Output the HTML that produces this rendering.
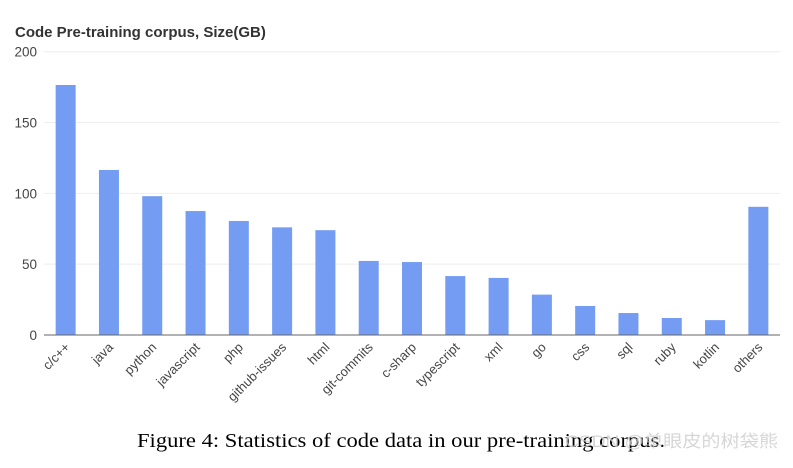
<!DOCTYPE html>
<html><head><meta charset="utf-8"><style>
body{margin:0;background:#fff;width:793px;height:463px;overflow:hidden;font-family:"Liberation Sans","DejaVu Sans",sans-serif}
</style></head><body>
<svg width="793" height="463" id="c">
<text x="15" y="37" font-size="15" font-weight="bold" fill="#333">Code Pre-training corpus, Size(GB)</text>
<text x="137" y="447" font-family="Liberation Serif,serif" font-size="20" fill="#000" textLength="528" lengthAdjust="spacingAndGlyphs">Figure 4: Statistics of code data in our pre-training corpus.</text>
<text x="565" y="447" font-family="Liberation Sans,'Noto Sans CJK SC',sans-serif" font-size="17" fill="#ccc" opacity="0.8" textLength="213" lengthAdjust="spacingAndGlyphs">CSDN @单眼皮的树袋熊</text>
</svg>
<script>
const categories=["c/c++","java","python","javascript","php","github-issues","html","git-commits","c-sharp","typescript","xml","go","css","sql","ruby","kotlin","others"];
const values=[176.5,116.5,98,87.5,80.5,76,74,52.3,51.5,41.6,40.3,28.5,20.5,15.5,12,10.5,90.5];
const yTicks=[0,50,100,150,200];
const svg=document.getElementById('c');const NS='http://www.w3.org/2000/svg';
const x0=44,x1=780,yTop=51.7,yBot=335,ymax=200;
const bw=(x1-x0)/categories.length;
const y=v=>yBot-(v/ymax)*(yBot-yTop);
function mk(t,a){const e=document.createElementNS(NS,t);for(const k in a)e.setAttribute(k,a[k]);svg.appendChild(e);return e;}
yTicks.forEach(t=>{
 if(t>0){const g=mk('line',{x1:x0,x2:x1,y1:y(t),y2:y(t),stroke:'#eeeeee','stroke-width':1});
 
 }
 const l=mk('text',{x:37,y:y(t)+5,'text-anchor':'end','font-size':13.5,fill:'#444'});l.textContent=t;
 
 
});
categories.forEach((c,i)=>{
 const cx=x0+bw*(i+0.5);
 const r=mk('rect',{x:cx-10,y:y(values[i]),width:20,height:yBot-y(values[i]),fill:'#739cf2'});
 
 
 const t=mk('text',{x:cx+5,y:yBot+13,'text-anchor':'end','font-size':13,fill:'#444',transform:`rotate(-45 ${cx+5} ${yBot+13})`});t.textContent=c;
 
 
});
const ax=mk('line',{x1:x0,x2:x1,y1:yBot,y2:yBot,stroke:'#666','stroke-width':1});


</script>
</body></html>
